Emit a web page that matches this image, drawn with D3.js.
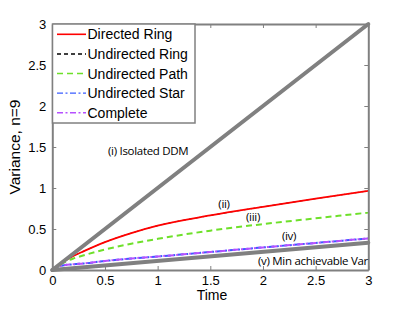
<!DOCTYPE html>
<html>
<head>
<meta charset="utf-8">
<script src="https://cdn.jsdelivr.net/npm/d3@7"></script>
<style>
body { margin: 0; background: #fff; }
svg text { font-family: "Liberation Sans", Arial, sans-serif; }
</style>
</head>
<body>
<svg id="chart" width="407" height="310"></svg>
<script>
// data
var time = [0, 0.05, 0.1, 0.2, 0.3, 0.5, 0.75, 1, 1.5, 2, 2.5, 3];
var directedRing = [0, 0.05, 0.095, 0.17, 0.23, 0.34, 0.45, 0.54, 0.665, 0.77, 0.87, 0.965];
var undirectedRing = [0, 0.05, 0.095, 0.17, 0.23, 0.34, 0.45, 0.54, 0.665, 0.77, 0.87, 0.965];
var undirectedPath = [0, 0.045, 0.085, 0.14, 0.18, 0.25, 0.32, 0.38, 0.48, 0.56, 0.63, 0.70];
var undirectedStar = [0, 0.04, 0.055, 0.07, 0.08, 0.11, 0.14, 0.165, 0.22, 0.275, 0.33, 0.385];
var complete = [0, 0.04, 0.055, 0.07, 0.08, 0.11, 0.14, 0.165, 0.22, 0.275, 0.33, 0.385];
var boundTime = [0, 3];
var isolated = [0, 3];
var minVar = [0, 1/3];
var ticks = [0, 0.5, 1, 1.5, 2, 2.5, 3];
var legendNames = ["Directed Ring", "Undirected Ring", "Undirected Path", "Undirected Star", "Complete"];

var svg = d3.select("svg#chart");
var x = d3.scaleLinear().domain([0, 3]).range([52.3, 368.3]);
var y = d3.scaleLinear().domain([0, 3]).range([270, 24]);
var axisColor = "#808080";

var line = d3.line()
    .x(function(d) { return x(d[0]); })
    .y(function(d) { return y(d[1]); })
    .curve(d3.curveMonotoneX);

var series = [
    {vals: undirectedRing, color: "#000", width: 1, legWidth: 1.5, dash: "4,3", off: 0},
    {vals: directedRing, color: "#ff0000", width: 1.8, legWidth: 1.6, dash: null, off: 0},
    {vals: undirectedPath, color: "#6ee02a", width: 2, legWidth: 1.6, dash: "6,4", off: 0},
    {vals: undirectedStar, color: "#3a5cff", width: 2, legWidth: 1.4, dash: "6,2.5,2,2.5", off: 3},
    {vals: complete, color: "#b650ff", width: 2, legWidth: 1.6, dash: "6,2.5,2,2.5", off: 0}
];

var plot = svg.append("g");
series.forEach(function(s) {
    plot.append("path")
        .datum(time.map(function(t, i) { return [t, s.vals[i]]; }))
        .attr("d", line)
        .attr("fill", "none")
        .attr("stroke", s.color)
        .attr("stroke-width", s.width)
        .attr("stroke-dasharray", s.dash)
        .attr("stroke-dashoffset", s.off);
});

// gray bounds drawn on top
[isolated, minVar].forEach(function(v) {
    plot.append("path")
        .datum(boundTime.map(function(t, i) { return [t, v[i]]; }))
        .attr("d", d3.line().x(function(d) { return x(d[0]); }).y(function(d) { return y(d[1]); }))
        .attr("fill", "none")
        .attr("stroke", axisColor)
        .attr("stroke-width", 4)
        .attr("stroke-linecap", "round");
});

// axes, ticks inward on every side
var axBottom = svg.append("g").attr("transform", "translate(0," + y(0) + ")")
    .call(d3.axisBottom(x).tickValues(ticks).tickSizeInner(-4).tickSizeOuter(0).tickPadding(6)
        .tickFormat(d3.format("")));
var axLeft = svg.append("g").attr("transform", "translate(" + x(0) + ",0)")
    .call(d3.axisLeft(y).tickValues(ticks).tickSizeInner(-4).tickSizeOuter(0).tickPadding(6)
        .tickFormat(d3.format("")));
var axTop = svg.append("g").attr("transform", "translate(0," + y(3) + ")")
    .call(d3.axisTop(x).tickValues(ticks).tickSizeInner(-4).tickSizeOuter(0).tickFormat(""));
var axRight = svg.append("g").attr("transform", "translate(" + x(3) + ",0)")
    .call(d3.axisRight(y).tickValues(ticks).tickSizeInner(-4).tickSizeOuter(0).tickFormat(""));

[axBottom, axLeft, axTop, axRight].forEach(function(a) {
    a.select(".domain").attr("stroke", axisColor).attr("stroke-width", 2);
    a.selectAll(".tick line").attr("stroke", axisColor);
    a.selectAll(".tick text").attr("fill", "#000").attr("font-size", 13)
        .attr("font-family", "Liberation Sans, Arial, sans-serif");
});

svg.append("text").attr("x", 212).attr("y", 300).attr("text-anchor", "middle")
    .attr("font-size", 14).text("Time");
svg.append("text").attr("transform", "translate(20,147) rotate(-90)").attr("text-anchor", "middle")
    .attr("font-size", 15.5).text("Variance, n=9");

// curve annotations
var notes = [
    {txt: "(i) Isolated DDM", x: 108, y: 155, anchor: "start"},
    {txt: "(ii)", x: 224, y: 208, anchor: "middle"},
    {txt: "(iii)", x: 253, y: 221, anchor: "middle"},
    {txt: "(iv)", x: 289, y: 240, anchor: "middle"},
    {txt: "(v) Min achievable Var", x: 368, y: 265, anchor: "end"}
];
notes.forEach(function(n) {
    svg.append("text").attr("x", n.x).attr("y", n.y).attr("text-anchor", n.anchor)
        .attr("font-size", 11.5)
        .style("font-family", "'Open Sans', sans-serif")
        .attr("letter-spacing", -0.3)
        .text(n.txt);
});

// legend
var leg = svg.append("g");
leg.append("rect").attr("x", 52.5).attr("y", 24).attr("width", 142.5).attr("height", 99)
    .attr("fill", "#fff").attr("stroke", axisColor).attr("stroke-width", 1.5);
var legOrder = [1, 0, 2, 3, 4];
legendNames.forEach(function(name, i) {
    var s = series[legOrder[i]];
    var ly = 34.3 + i * 19.6;
    leg.append("line").attr("x1", 57).attr("x2", 86).attr("y1", ly).attr("y2", ly)
        .attr("stroke", s.color).attr("stroke-width", s.legWidth).attr("stroke-dasharray", s.dash);
    leg.append("text").attr("x", 87.5).attr("y", ly + 5).attr("font-size", 14).text(name);
});
</script>
</body>
</html>
